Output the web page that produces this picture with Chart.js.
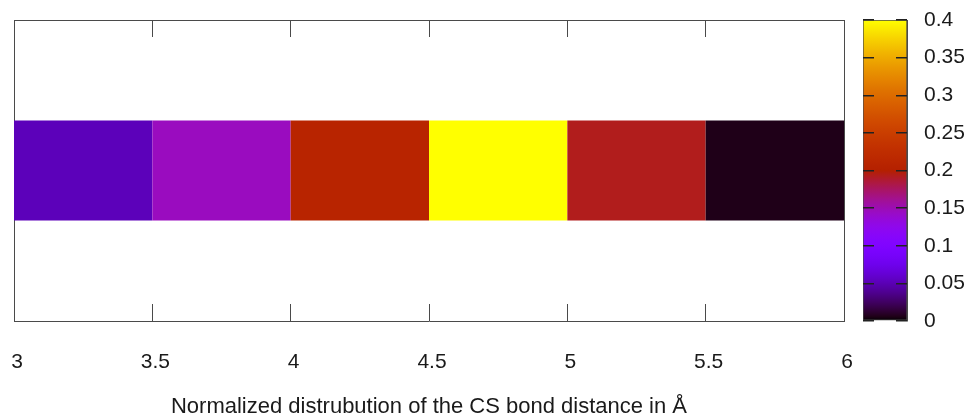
<!DOCTYPE html>
<html>
<head>
<meta charset="utf-8">
<script src="https://cdn.jsdelivr.net/npm/chart.js@4"></script>
<style>
  html, body { margin: 0; padding: 0; background: #fff; }
  #wrap { position: relative; width: 970px; height: 415px; }
  #heat { position: absolute; left: 0; top: 0; }
  #cbar { position: absolute; left: 855px; top: 0; }
</style>
</head>
<body>
<div id="wrap">
  <canvas id="heat" width="855" height="415"></canvas>
  <canvas id="cbar" width="115" height="415"></canvas>
</div>
<script>
// bins of CS bond distance (Å) and their normalized share
const binStart = [3, 3.5, 4, 4.5, 5, 5.5];
const binEnd   = [3.5, 4, 4.5, 5, 5.5, 6];
const binValue = [0.052, 0.146, 0.208, 0.4, 0.193, 0.006];

const xTicks      = [3, 3.5, 4, 4.5, 5, 5.5, 6];
const xTickLabels = ['3', '3.5', '4', '4.5', '5', '5.5', '6'];

const cbMin = 0, cbMax = 0.4;
const cbTicks      = [0, 0.05, 0.1, 0.15, 0.2, 0.25, 0.3, 0.35, 0.4];
const cbTickLabels = ['0', '0.05', '0.1', '0.15', '0.2', '0.25', '0.3', '0.35', '0.4'];

const xTitle = 'Normalized distrubution of the CS bond distance in Å';

const FONT = 'Liberation Sans, Arial, Helvetica, sans-serif';
const INK = '#1a1a1a';
const LINE = '#4a4a4a';
Chart.defaults.font.family = FONT;

// gnuplot default pm3d palette (rgbformulae 7,5,15)
function palette(v) {
  const t = Math.min(1, Math.max(0, (v - cbMin) / (cbMax - cbMin)));
  const r = Math.sqrt(t), g = t * t * t, b = Math.max(0, Math.sin(2 * Math.PI * t));
  return 'rgb(' + Math.round(r * 255) + ',' + Math.round(g * 255) + ',' + Math.round(b * 255) + ')';
}

// pin axis sizes so the plot box lands where gnuplot put it
const fixH = h => s => { s.height = h; s.paddingLeft = 0; s.paddingRight = 0; };
const fixW = w => s => { s.width = w; s.paddingTop = 0; s.paddingBottom = 0; };
const hidden = { display: false, drawTicks: false };

new Chart(document.getElementById('heat'), {
  type: 'bar',
  data: {
    labels: ['CS'],
    datasets: [{
      data: binStart.map((s, i) => ({ x: [s, binEnd[i]], y: 'CS' })),
      backgroundColor: binValue.map(palette),
      borderWidth: 0,
      barPercentage: 0.332,
      categoryPercentage: 1
    }]
  },
  options: {
    indexAxis: 'y',
    responsive: false,
    animation: false,
    layout: { padding: { left: 14, right: 11, top: 20, bottom: 0 } },
    plugins: { legend: { display: false }, tooltip: { enabled: false } },
    scales: {
      x: {
        type: 'linear', position: 'bottom', min: 3, max: 6,
        afterBuildTicks: s => { s.ticks = xTicks.map(v => ({ value: v })); },
        afterFit: fixH(94),
        grid: { color: LINE, lineWidth: 1, drawTicks: false },
        border: { display: true, color: LINE, width: 1, dash: [17, 267, 17] },
        ticks: { padding: 29, labelOffset: 3, color: INK, font: { size: 21 }, callback: (v, i) => xTickLabels[i] },
        title: { display: true, text: xTitle, color: INK, font: { size: 22, lineHeight: 0.73 }, padding: 0 }
      },
      x2: {
        type: 'linear', position: 'top', min: 3, max: 6,
        afterFit: fixH(0),
        grid: hidden, ticks: { display: false },
        border: { display: true, color: LINE, width: 1 }
      },
      y: {
        type: 'category', position: 'left',
        afterFit: fixW(0),
        grid: hidden, ticks: { display: false },
        border: { display: true, color: LINE, width: 1 }
      },
      y2: {
        type: 'linear', position: 'right',
        afterFit: fixW(0),
        grid: hidden, ticks: { display: false },
        border: { display: true, color: LINE, width: 1 }
      }
    }
  }
});

// colour box
new Chart(document.getElementById('cbar'), {
  type: 'bar',
  data: {
    labels: ['cb'],
    datasets: [{
      data: [[cbMin, cbMax]],
      backgroundColor: c => {
        const ch = c.chart;
        if (!ch.chartArea) return palette(cbMax);
        const y = ch.scales.y;
        const grad = ch.ctx.createLinearGradient(0, y.getPixelForValue(cbMin), 0, y.getPixelForValue(cbMax));
        for (let k = 0; k <= 64; k++) {
          grad.addColorStop(k / 64, palette(cbMin + (k / 64) * (cbMax - cbMin)));
        }
        return grad;
      },
      borderColor: LINE,
      borderWidth: 1,
      borderSkipped: false,
      barPercentage: 1,
      categoryPercentage: 1
    }]
  },
  options: {
    responsive: false,
    animation: false,
    layout: { padding: { left: 8, right: 0, top: 20, bottom: 94 } },
    plugins: { legend: { display: false }, tooltip: { enabled: false } },
    scales: {
      x: { display: false },
      y: {
        position: 'right', min: cbMin, max: cbMax,
        afterBuildTicks: s => { s.ticks = cbTicks.map(v => ({ value: v })); },
        afterFit: fixW(63),
        // ticks sit on top of the gradient; border layer must follow the grid layer
        grid: { color: '#222', lineWidth: 1.5, drawTicks: false, z: 1 },
        border: { display: true, color: LINE, width: 1, dash: [11, 22, 11], z: 2 },
        ticks: { padding: 17, color: INK, font: { size: 21 }, callback: (v, i) => cbTickLabels[i] }
      }
    }
  }
});
</script>
</body>
</html>
